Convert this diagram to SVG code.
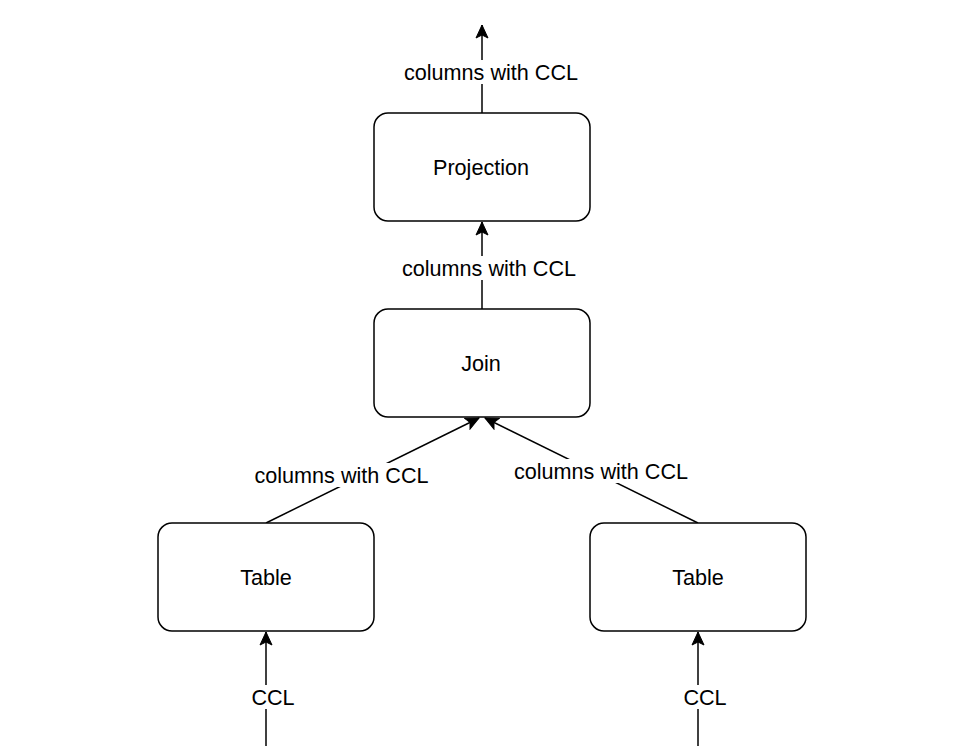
<svg xmlns="http://www.w3.org/2000/svg" width="980" height="756" viewBox="0 0 980 756">
<style>
.box{fill:#fff;stroke:#000;stroke-width:1.5}
.edge{fill:none;stroke:#000;stroke-width:1.5}
.t{font-family:"Liberation Sans",Arial,sans-serif;font-size:21.6px;fill:#000;text-anchor:middle}
.bg{fill:#fff}
</style>
<defs>
<marker id="arr" markerUnits="userSpaceOnUse" markerWidth="16" markerHeight="14" viewBox="-14 -7 16 14" refX="0" refY="0" orient="auto">
<path d="M-13,-6 L0,0 L-13,6 L-10,0 Z" fill="#000" stroke="#000" stroke-width="1"/>
</marker>
</defs>
<rect width="980" height="756" fill="#fff"/>
<g id="connectors">
<line class="edge" x1="482" y1="113" x2="482" y2="25" marker-end="url(#arr)"/>
<line class="edge" x1="482" y1="309" x2="482" y2="222" marker-end="url(#arr)"/>
<line class="edge" x1="266" y1="523" x2="479" y2="418" marker-end="url(#arr)"/>
<line class="edge" x1="698" y1="523" x2="485" y2="418" marker-end="url(#arr)"/>
<line class="edge" x1="266" y1="746" x2="266" y2="632" marker-end="url(#arr)"/>
<line class="edge" x1="698" y1="746" x2="698" y2="632" marker-end="url(#arr)"/>
<rect class="bg" x="402" y="60" width="180" height="24"/>
<text class="t" x="491" y="79.5">columns with CCL</text>
<rect class="bg" x="400" y="256" width="180" height="24"/>
<text class="t" x="489" y="275.5">columns with CCL</text>
<rect class="bg" x="252" y="463" width="180" height="24"/>
<text class="t" x="341.5" y="482.5">columns with CCL</text>
<rect class="bg" x="511" y="459" width="180" height="24"/>
<text class="t" x="601" y="478.5">columns with CCL</text>
<rect class="bg" x="252" y="685" width="44" height="24"/>
<text class="t" x="273" y="704.5">CCL</text>
<rect class="bg" x="684" y="685" width="44" height="24"/>
<text class="t" x="705" y="704.5">CCL</text>
</g>
<g id="projection">
<rect class="box" x="374" y="113" width="216" height="108" rx="14"/>
<text class="t" x="481" y="174.5">Projection</text>
</g>
<g id="join">
<rect class="box" x="374" y="309" width="216" height="108" rx="14"/>
<text class="t" x="481" y="370.5">Join</text>
</g>
<g id="table-left">
<rect class="box" x="158" y="523" width="216" height="108" rx="14"/>
<text class="t" x="266" y="585">Table</text>
</g>
<g id="table-right">
<rect class="box" x="590" y="523" width="216" height="108" rx="14"/>
<text class="t" x="698" y="585">Table</text>
</g>
</svg>
